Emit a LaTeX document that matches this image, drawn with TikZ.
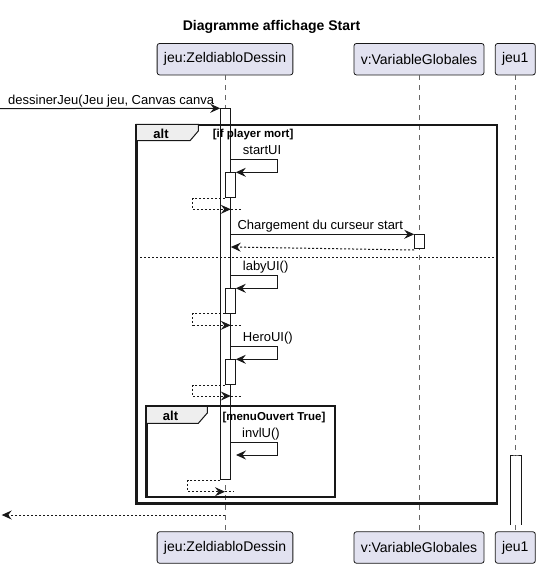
\documentclass[tikz,border=0pt]{standalone}
\usepackage{fontspec}
\setmainfont{Liberation Sans}
\usetikzlibrary{arrows.meta}
\definecolor{partfill}{HTML}{E2E2F0}
\definecolor{umlline}{HTML}{181818}
\definecolor{tabfill}{HTML}{EEEEEE}

\begin{document}
\begin{tikzpicture}[
        x=1pt, y=-1pt,
        participant/.style={rectangle, rounded corners=2.5pt, draw=umlline, fill=partfill, line width=0.8pt, minimum height=31.5pt, inner xsep=6.8pt, font=\fontsize{14}{16}\selectfont},
        activation/.style={rectangle, draw=umlline, fill=white, line width=1pt, minimum width=9.6pt, inner sep=0pt, anchor=north},
        lifeline/.style={dash pattern=on 5pt off 5pt, draw=black!60, line width=0.8pt},
        msg/.style={-{Stealth[length=10pt, width=9pt, inset=3.5pt]}, line width=1pt, draw=umlline},
        ret/.style={msg, dash pattern=on 2pt off 2pt},
        retline/.style={line width=1pt, draw=umlline, dash pattern=on 2pt off 2pt},
        msglabel/.style={anchor=base west, inner sep=0pt, font=\fontsize{13}{15}\selectfont},
        frame/.style={rectangle, draw=umlline, line width=1.6pt, inner sep=0pt, anchor=north west},
        tab/.style={draw=umlline, fill=tabfill, line width=1pt},
        altlabel/.style={anchor=base, inner sep=0pt, font=\bfseries\fontsize{13}{15}\selectfont},
        guard/.style={anchor=base west, inner sep=0pt, font=\bfseries\fontsize{11.5}{13}\selectfont}
    ]
    \useasboundingbox (0,0) rectangle (541,568);

    % Title
    \node[anchor=base, font=\bfseries\fontsize{14}{16}\selectfont] (title) at (271.5,30) {Diagramme affichage Start};

    % Participants
    \node[participant] (dessin-top) at (225,59.2) {jeu:ZeldiabloDessin};
    \node[participant] (var-top) at (419,59.2) {v:VariableGlobales};
    \node[participant] (jeu1-top) at (515.3,59.2) {jeu1};
    \node[participant] (dessin-bottom) at (225,547.5) {jeu:ZeldiabloDessin};
    \node[participant] (var-bottom) at (419,547.5) {v:VariableGlobales};
    \node[participant] (jeu1-bottom) at (515.3,547.5) {jeu1};

    % Lifelines
    \draw[lifeline] (dessin-top) -- (dessin-bottom);
    \draw[lifeline] (var-top) -- (var-bottom);
    \draw[lifeline] (jeu1-top) -- (jeu1-bottom);

    % Activations
    \node[activation, minimum height=371pt] (act-main) at (225.5,108.3) {};
    \node[activation, minimum height=25pt] (act-start) at (230.5,172.3) {};
    \node[activation, minimum height=13.7pt] (act-var) at (419.5,234.3) {};
    \node[activation, minimum height=24.4pt] (act-laby) at (230.5,288.3) {};
    \node[activation, minimum height=24.7pt] (act-hero) at (230.5,359.3) {};
    \node[activation, draw=none, minimum height=69pt] (act-jeu1) at (515.7,455) {};
    \draw[line width=1pt, draw=umlline] (act-jeu1.south west) |- (act-jeu1.north) -| (act-jeu1.south east);

    % Alt frames
    \node[frame, minimum width=359.7pt, minimum height=378pt] (alt-outer) at (136,124.3) {};
    \draw[tab] (alt-outer.north west) -- ++(62.3,0) -- ++(0,6.7) -- ++(-8.3,9.7) -- ++(-54,0) -- cycle;
    \draw[frame] (alt-outer.north west) rectangle (alt-outer.south east);
    \node[altlabel] (alt-outer-label) at (161,138.3) {alt};
    \node[guard] (guard-mort) at (212.7,137.8) {[if player mort]};
    \draw[retline] (alt-outer.west |- 0,257.3) -- (alt-outer.east |- 0,257.3);

    \node[frame, minimum width=188pt, minimum height=90pt] (alt-inner) at (146,405.7) {};
    \draw[tab] (alt-inner.north west) -- ++(61.3,0) -- ++(0,7.3) -- ++(-9,10.3) -- ++(-52.3,0) -- cycle;
    \draw[frame] (alt-inner.north west) rectangle (alt-inner.south east);
    \node[altlabel] (alt-inner-label) at (170.5,420.5) {alt};
    \node[guard] (guard-menu) at (222.3,420) {[menuOuvert True]};

    % dessinerJeu
    \coordinate (caller-in) at (0,108.6);
    \node[msglabel] (lbl-dessiner) at (8,104) {dessinerJeu(Jeu jeu, Canvas canva};
    \draw[msg] (caller-in) -- (act-main.north west);

    % startUI
    \node[msglabel] (lbl-start) at (242.7,154.3) {startUI};
    \draw[msg] (act-main.east |- 0,159.3) -- ++(47,0) |- (act-start.north east);
    \draw[ret] (act-start.south west) -- ++(-32.4,0) |- (act-main.east |- 0,209.3);
    \draw[retline] (act-main.east |- 0,209.3) -- ++(9.7,0);

    % Chargement du curseur
    \node[msglabel] (lbl-charge) at (237.3,229.3) {Chargement du curseur start};
    \draw[msg] (act-main.east |- act-var.north west) -- (act-var.north west);
    \draw[ret] ([yshift=-1pt]act-var.south west) -- (act-main.east |- 0,247);

    % labyUI
    \node[msglabel] (lbl-laby) at (242.7,270.7) {labyUI()};
    \draw[msg] (act-main.east |- 0,275.7) -- ++(47,0) |- (act-laby.north east);
    \draw[ret] (act-laby.south west) -- ++(-32.4,0) |- (act-main.east |- 0,325.3);
    \draw[retline] (act-main.east |- 0,325.3) -- ++(9.7,0);

    % HeroUI
    \node[msglabel] (lbl-hero) at (242.7,341.7) {HeroUI()};
    \draw[msg] (act-main.east |- 0,346.7) -- ++(47,0) |- (act-hero.north east);
    \draw[ret] (act-hero.south west) -- ++(-32.4,0) |- (act-main.east |- 0,396);
    \draw[retline] (act-main.east |- 0,396) -- ++(9.7,0);

    % invlU
    \coordinate (invlu-end) at (236,455);
    \node[msglabel] (lbl-invlu) at (242,437.3) {invlU()};
    \draw[msg] (act-main.east |- 0,442.3) -- ++(47,0) |- (invlu-end);
    \draw[ret] (act-main.south west) -- ++(-32.4,0) |- (dessin-top.south |- 0,491.7);
    \draw[retline] (dessin-top.south |- 0,491.7) -- ++(9,0);

    % Final return
    \coordinate (caller-out) at (1.7,515);
    \draw[ret] (dessin-top.south |- 0,515) -- (caller-out);

\end{tikzpicture}
\end{document}
